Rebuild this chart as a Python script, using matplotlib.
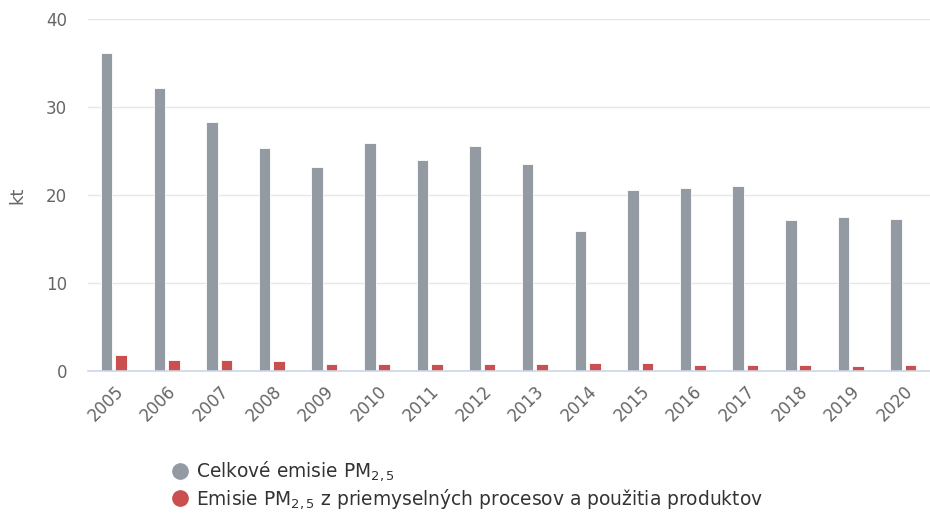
import numpy as np
import matplotlib.pyplot as plt
from matplotlib.lines import Line2D

years = [str(y) for y in range(2005, 2021)]
total_pm25 = [36.1, 32.2, 28.3, 25.3, 23.2, 25.9, 24.0, 25.6, 23.5, 15.9,
              20.6, 20.8, 21.0, 17.2, 17.5, 17.3]
industry_pm25 = [1.85, 1.3, 1.3, 1.1, 0.75, 0.75, 0.75, 0.75, 0.75, 0.95,
                 0.92, 0.72, 0.72, 0.72, 0.55, 0.72]
yticks = [0, 10, 20, 30, 40]

GRAY = "#939aa1"
RED = "#c9504f"
TXT = "#666666"

fig = plt.figure(figsize=(9.3, 5.17), dpi=100)
ax = fig.add_axes([88 / 930, 1 - 371 / 517, 842 / 930, 352 / 517])

x = np.arange(len(years))
w = 0.22
ax.bar(x - 0.145, total_pm25, width=w, color=GRAY, edgecolor="white", linewidth=0.6, zorder=3)
ax.bar(x + 0.13, industry_pm25, width=w, color=RED, edgecolor="white", linewidth=0.6, zorder=3)

ax.set_xlim(-0.5, len(years) - 0.5)
ax.set_ylim(0, 40)
ax.set_yticks(yticks)
ax.set_yticklabels([str(t) for t in yticks], color=TXT, fontsize=12)
ax.set_xticks(x)
ax.set_xticklabels(years, rotation=45, ha="right", rotation_mode="anchor",
                   color=TXT, fontsize=12)
ax.tick_params(axis="both", length=0, pad=8)
ax.tick_params(axis="y", pad=15)
ax.grid(axis="y", color="#e6e6e6", linewidth=1, zorder=0)
for s in ["top", "right", "left"]:
    ax.spines[s].set_visible(False)
ax.spines["bottom"].set_color("#ccd6eb")
ax.spines["bottom"].set_linewidth(1.2)
ax.spines["bottom"].set_zorder(4)
ax.set_ylabel("kt", color=TXT, fontsize=13, labelpad=14)

handles = [
    Line2D([], [], marker="o", linestyle="none", markersize=11, color=GRAY),
    Line2D([], [], marker="o", linestyle="none", markersize=11, color=RED),
]
labels = [
    r"Celkové emisie PM$_{\mathregular{2,5}}$",
    r"Emisie PM$_{\mathregular{2,5}}$ z priemyselných procesov a použitia produktov",
]
fig.legend(handles, labels, loc="upper left", bbox_to_anchor=(163 / 930, 1 - 452 / 517),
           frameon=False, fontsize=13.4, labelcolor="#333333", handletextpad=0.35,
           labelspacing=0.2, handlelength=1.0, borderaxespad=0)

fig.savefig("out.png", dpi=100)
